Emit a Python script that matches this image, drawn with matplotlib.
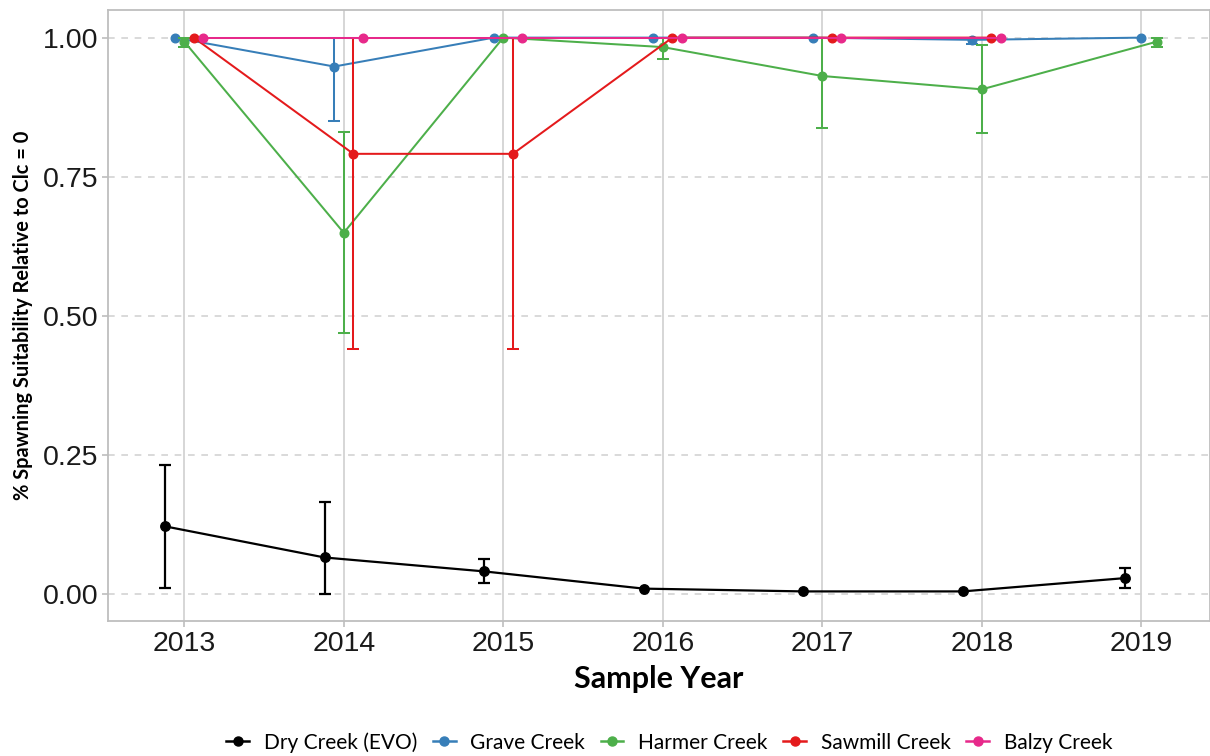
import numpy as np
import matplotlib
matplotlib.use("Agg")
import matplotlib.pyplot as plt
from matplotlib.lines import Line2D

nan = np.nan

years = ["2013", "2014", "2015", "2016", "2017", "2018", "2019"]

creeks = ["Dry Creek (EVO)", "Grave Creek", "Harmer Creek", "Sawmill Creek", "Balzy Creek"]
colors = ["#000000", "#377EB8", "#4DAF4A", "#E41A1C", "#E7298A"]

dry_mean = [0.121, 0.065, 0.040, 0.009, 0.004, 0.004, 0.028]
dry_lo = [0.010, 0.000, 0.019, 0.009, 0.004, 0.004, 0.011]
dry_hi = [0.232, 0.164, 0.062, 0.009, 0.004, 0.004, 0.046]

grave_mean = [1.0, 0.948, 1.0, 1.0, 1.0, 0.996, 1.0]
grave_lo = [1.0, 0.850, 1.0, 1.0, 1.0, 0.988, 1.0]
grave_hi = [1.0, 1.0, 1.0, 1.0, 1.0, 1.0, 1.0]

harmer_mean = [0.993, 0.649, 1.0, 0.983, 0.931, 0.907, 0.993]
harmer_lo = [0.983, 0.468, 1.0, 0.962, 0.838, 0.828, 0.983]
harmer_hi = [1.0, 0.830, 1.0, 1.0, 1.0, 0.986, 1.0]

sawmill_mean = [1.0, 0.791, 0.791, 1.0, 1.0, 1.0, nan]
sawmill_lo = [1.0, 0.440, 0.440, 1.0, 1.0, 1.0, nan]
sawmill_hi = [1.0, 1.0, 1.0, 1.0, 1.0, 1.0, nan]

balzy_mean = [1.0, 1.0, 1.0, 1.0, 1.0, 1.0, nan]
balzy_lo = [1.0, 1.0, 1.0, 1.0, 1.0, 1.0, nan]
balzy_hi = [1.0, 1.0, 1.0, 1.0, 1.0, 1.0, nan]

means = [dry_mean, grave_mean, harmer_mean, sawmill_mean, balzy_mean]
lows = [dry_lo, grave_lo, harmer_lo, sawmill_lo, balzy_lo]
highs = [dry_hi, grave_hi, harmer_hi, sawmill_hi, balzy_hi]

DODGE = 0.3
grid_col = "#D3D3D3"
frame_col = "#BEBEBE"

fig = plt.figure(figsize=(12.1, 7.56), dpi=100)
ax = fig.add_axes([0.0895, 0.178, 0.9105, 0.809])

# dodge positions: groups present in each year share a band of width DODGE
M = np.array(means, dtype=float)
xpos = np.full(M.shape, nan)
for j in range(len(years)):
    present = [i for i in range(len(creeks)) if not np.isnan(M[i, j])]
    n = len(present)
    for k, i in enumerate(present):
        xpos[i, j] = j + (k - (n - 1) / 2) * DODGE / n

for i, name in enumerate(creeks):
    col = colors[i]
    lw = 1.6 if i == 0 else 1.45
    ms = 6.8 if i == 0 else 6.2
    x = xpos[i]
    y = np.array(means[i], dtype=float)
    lo = np.array(lows[i], dtype=float)
    hi = np.array(highs[i], dtype=float)
    ok = ~np.isnan(y)
    ax.plot(x[ok], y[ok], color=col, lw=lw, zorder=3 + i)
    has_err = ok & ((hi - lo) > 1e-9)
    if has_err.any():
        ax.errorbar(x[has_err], y[has_err],
                    yerr=[y[has_err] - lo[has_err], hi[has_err] - y[has_err]],
                    fmt="none", ecolor=col, elinewidth=lw, capsize=4.4,
                    capthick=lw, zorder=3 + i)
    ax.plot(x[ok], y[ok], "o", color=col, ms=ms, mec=col, zorder=3.5 + i)

ax.set_xlim(-0.476, 6.43)
ax.set_ylim(-0.05, 1.05)
ax.set_xticks(range(len(years)))
ax.set_xticklabels(years)
ax.set_yticks([0.0, 0.25, 0.5, 0.75, 1.0])
ax.set_yticklabels(["0.00", "0.25", "0.50", "0.75", "1.00"])

ax.grid(axis="x", color=grid_col, lw=1.3, ls="-", zorder=0)
ax.grid(axis="y", color=grid_col, lw=1.2, ls=(0, (4, 4)), zorder=0)
ax.set_axisbelow(True)
for s in ax.spines.values():
    s.set_color(frame_col)
    s.set_linewidth(1.3)

ax.tick_params(axis="both", colors=frame_col, length=4, width=1.2,
               labelcolor="#1A1A1A", labelsize=20.5, pad=3)
for lab in ax.get_xticklabels() + ax.get_yticklabels():
    lab.set_fontfamily("Liberation Sans")

ax.set_xlabel("Sample Year", fontsize=22, fontweight="bold",
              family="Lato", labelpad=6)
ax.set_ylabel("% Spawning Suitability Relative to Clc = 0", fontsize=14.4,
              fontweight="bold", family="Lato", labelpad=7)

handles = [Line2D([], [], color=colors[i], lw=1.8, marker="o", ms=6.5)
           for i in range(len(creeks))]
fig.legend(handles, creeks, loc="center", bbox_to_anchor=(0.553, 0.018),
           ncol=5, frameon=False, handlelength=1.1, handletextpad=0.7,
           columnspacing=0.75, prop={"family": "Lato", "size": 15})

fig.savefig("out.png", dpi=100)
